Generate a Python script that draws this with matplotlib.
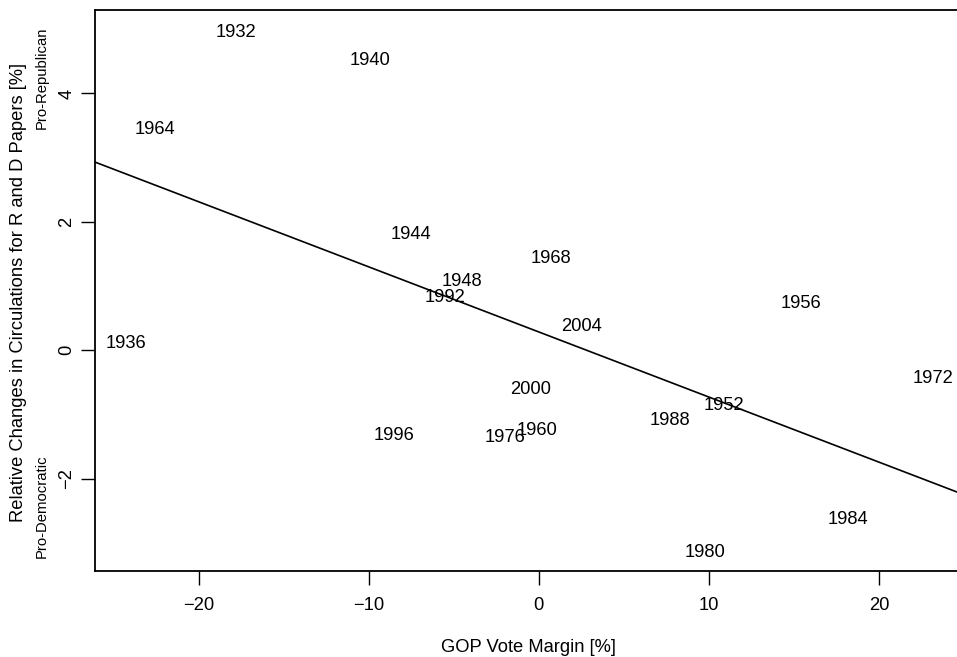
import numpy as np
import matplotlib
matplotlib.use("Agg")
import matplotlib.pyplot as plt

plt.rcParams['font.family'] = ['Liberation Sans', 'DejaVu Sans']

# election years, GOP vote margin [%], relative change in circulations [%]
years = ['1932', '1936', '1940', '1944', '1948', '1952', '1956', '1960', '1964', '1968',
         '1972', '1976', '1980', '1984', '1988', '1992', '1996', '2000', '2004']
margin = [-17.8, -24.3, -9.9, -7.5, -4.5, 10.9, 15.4, -0.1, -22.6, 0.7,
          23.2, -2.0, 9.8, 18.2, 7.7, -5.5, -8.5, -0.5, 2.5]
circ = [4.96, 0.12, 4.53, 1.81, 1.09, -0.84, 0.75, -1.24, 3.46, 1.45,
        -0.42, -1.35, -3.13, -2.63, -1.08, 0.83, -1.32, -0.60, 0.38]

# fitted line
intercept = 0.284
slope = -0.1014

xticks = [-20, -10, 0, 10, 20]
yticks = [-2, 0, 2, 4]

def lab(t):
    return str(t).replace('-', '\u2212')

fs = 13.2
W, H = 957, 657
fig = plt.figure(figsize=(W / 100, H / 100), dpi=100)
# plot region runs off the right edge of the image
left, right, top, bottom = 95, 965, 10, 571
ax = fig.add_axes([left / W, 1 - bottom / H, (right - left) / W, (bottom - top) / H])

ax.set_xlim(-26.1, 25.06)
ax.set_ylim(-3.44, 5.30)

for yr, x, y in zip(years, margin, circ):
    ax.text(x, y - 0.015, yr, ha='center', va='center', fontsize=fs, color='black')

ax.axline((0, intercept), slope=slope, color='black', lw=1.2)

ax.set_xticks(xticks)
ax.set_yticks(yticks)
ax.set_xticklabels([lab(t) for t in xticks])
ax.set_yticklabels([lab(t) for t in yticks], rotation=90, va='center')
ax.tick_params(direction='out', length=10, width=1.0, labelsize=fs)
ax.tick_params(axis='x', pad=9)
ax.tick_params(axis='y', pad=4)
for s in ax.spines.values():
    s.set_linewidth(1.3)
ax.spines['right'].set_visible(False)

fig.text(528 / W, 1 - 648 / H, 'GOP Vote Margin [%]', ha='center', va='center', fontsize=fs)
fig.text(19 / W, 1 - 292 / H, 'Relative Changes in Circulations for R and D Papers [%]',
         ha='center', va='center', rotation=90, fontsize=fs)
fig.text(42 / W, 1 - 78 / H, 'Pro-Republican', ha='center', va='center', rotation=90, fontsize=10.7)
fig.text(42 / W, 1 - 506 / H, 'Pro-Democratic', ha='center', va='center', rotation=90, fontsize=10.7)

fig.savefig('out.png', dpi=100)
